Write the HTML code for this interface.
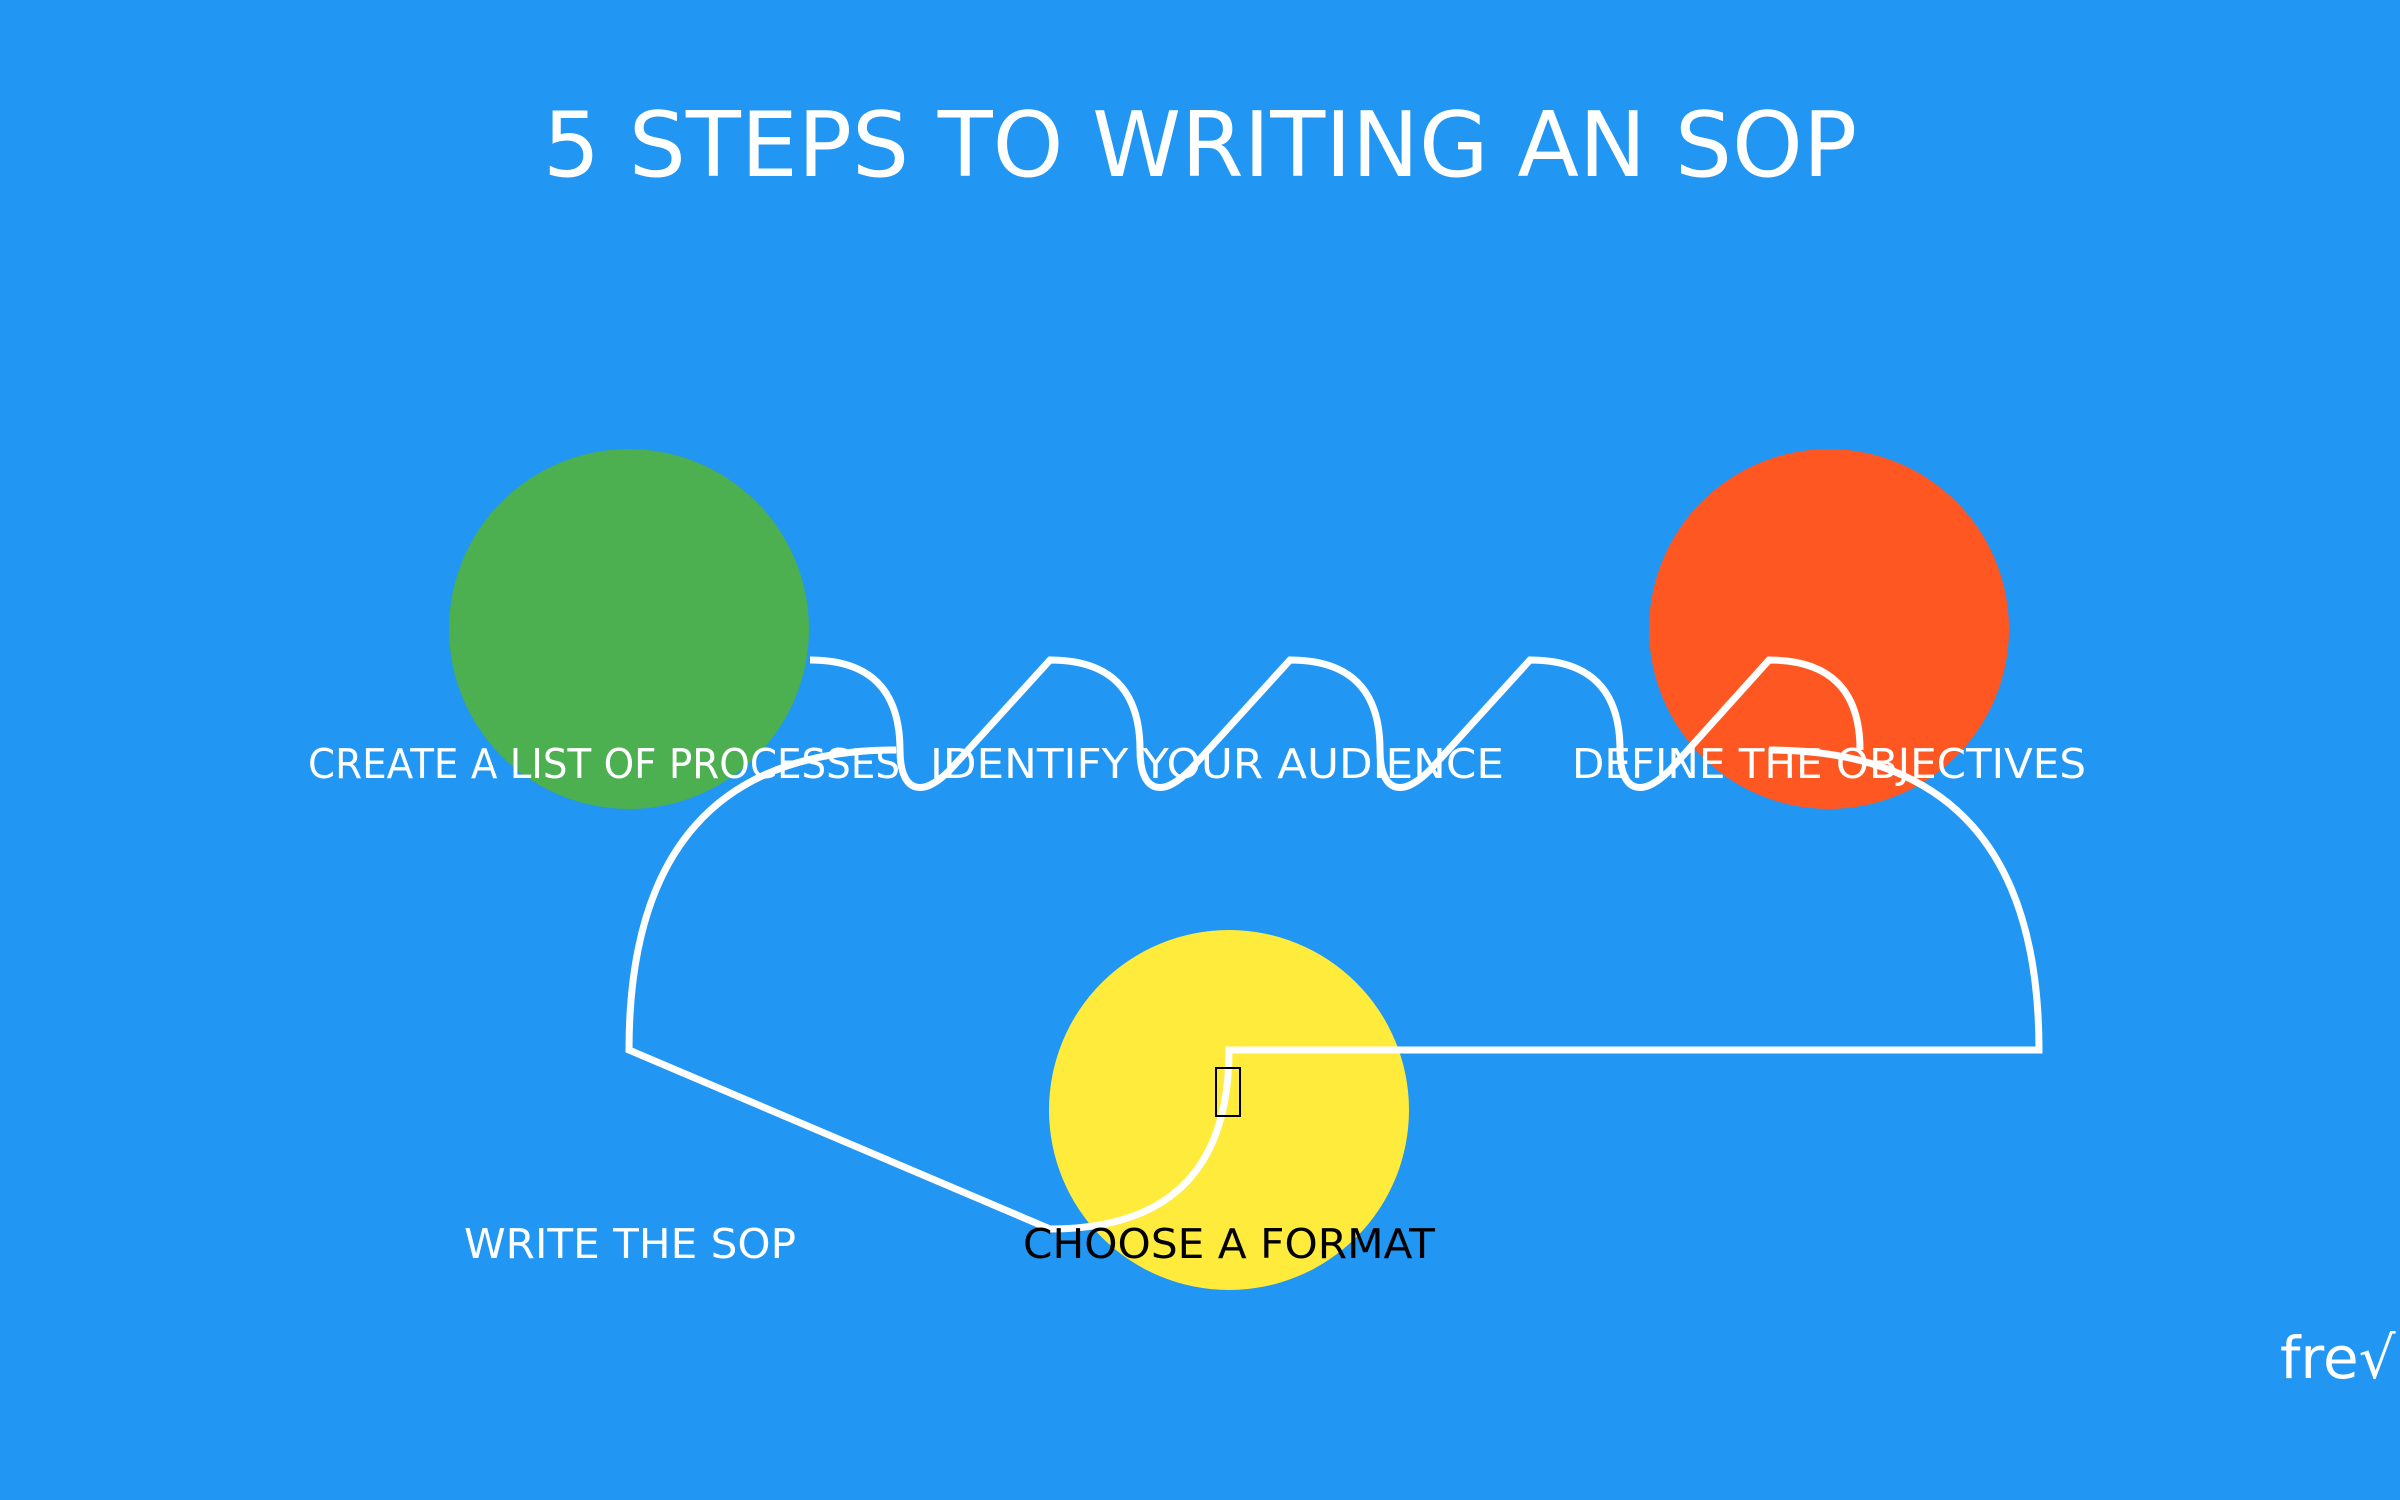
<!DOCTYPE html>
<html><head><meta charset="utf-8"><style>
html,body{margin:0;padding:0;background:#2196F3;}
svg{display:block}
text{font-family:"DejaVu Sans","Liberation Sans",sans-serif;}
</style></head><body>
<svg width="2400" height="1500" viewBox="0 0 2400 1500">
<rect width="2400" height="1500" fill="#2196F3"/>
<text x="1200" y="176" font-size="90" fill="#fff" text-anchor="middle">5 STEPS TO WRITING AN SOP</text>
<circle cx="629" cy="629" r="180" fill="#4CAF50"/>
<circle cx="1829" cy="629" r="180" fill="#FF5722"/>
<circle cx="1229" cy="1110" r="180" fill="#FFEB3B"/>
<g fill="none" stroke="#fff" stroke-width="7">
<path d="M810,660 Q900,660 900,750 C900,790 920,800 950,770 L1050,660 Q1140,660 1140,750 C1140,790 1160,800 1190,770 L1290,660 Q1380,660 1380,750 C1380,790 1400,800 1430,770 L1530,660 Q1620,660 1620,750 C1620,790 1640,800 1670,770 L1769,660 Q1860,660 1860,750"/>
<path d="M896,750 Q629,750 629,1050 L1050,1229 Q1229,1229 1229,1050 L2039,1050 Q2039,750 1769,750"/>
</g>
<g font-size="41" fill="#fff" text-anchor="middle">
<text x="604" y="778" textLength="592" lengthAdjust="spacingAndGlyphs">CREATE A LIST OF PROCESSES</text>
<text x="1217" y="778" textLength="574" lengthAdjust="spacingAndGlyphs">IDENTIFY YOUR AUDIENCE</text>
<text x="1829" y="778" textLength="514" lengthAdjust="spacingAndGlyphs">DEFINE THE OBJECTIVES</text>
<text x="630" y="1258" textLength="332" lengthAdjust="spacingAndGlyphs">WRITE THE SOP</text>
<text x="1229" y="1258" fill="#000" textLength="412" lengthAdjust="spacingAndGlyphs">CHOOSE A FORMAT</text>
</g>
<rect x="1216" y="1068" width="24" height="48" fill="none" stroke="#000" stroke-width="2"/>
<text x="2280" y="1378" font-size="58" fill="#fff">fre√</text>
</svg>
</body></html>
